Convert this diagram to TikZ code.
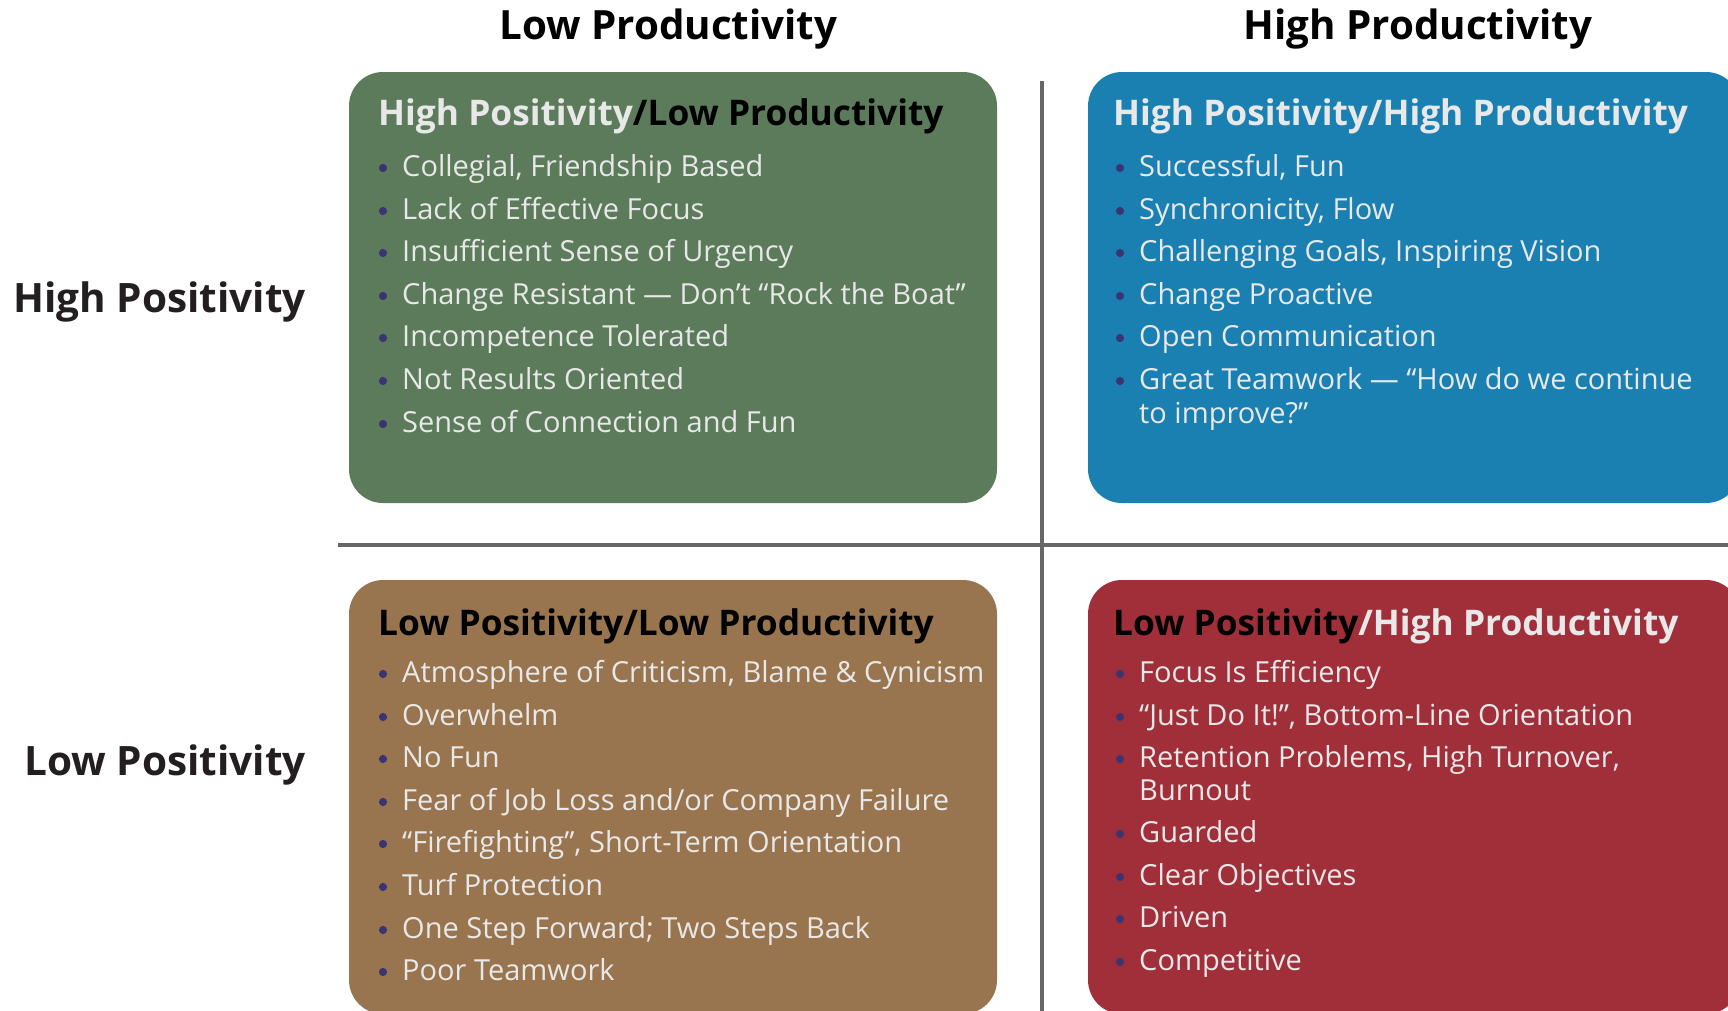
\documentclass[tikz,border=0pt]{standalone}
\usepackage{fontspec}
\setmainfont{Open Sans}
\definecolor{gbox}{HTML}{5B7B5B}
\definecolor{bbox}{HTML}{1A80B1}
\definecolor{brbox}{HTML}{98754E}
\definecolor{rbox}{HTML}{A02F3A}
\definecolor{ltext}{HTML}{E8E8E8}
\definecolor{bulc}{HTML}{3B3472}
\definecolor{linec}{HTML}{666666}
\definecolor{labc}{HTML}{231F20}
\tikzset{
  quad/.style={rounded corners=34pt},
  axis/.style={draw=linec, line width=4pt},
  head/.style={inner sep=0pt, anchor=base, font=\fontsize{40.3}{47}\bfseries\selectfont, text=black},
  side/.style={inner sep=0pt, anchor=base east, font=\fontsize{40.5}{48}\bfseries\selectfont, text=labc},
  ttl/.style={inner sep=0pt, anchor=base west, font=\fontsize{35.3}{42}\bfseries\selectfont},
  body/.style={inner sep=0pt, anchor=base west, font=\fontsize{29}{34}\selectfont, text=ltext},
  bul/.style={fill=bulc}
}
\newcommand\bitem[4]{\fill[bul] (#2,#3-8) circle (4.1pt); \node[body] (#1) at (#2+19,#3) {#4};}
\begin{document}
\begin{tikzpicture}[x=1pt,y=-1pt]
\useasboundingbox (0,0) rectangle (1728,1010);
\clip (0,0) rectangle (1728,1010);
% boxes
\fill[gbox, quad] (349,72) rectangle (997,503);
\fill[bbox, quad] (1088,72) rectangle (1740,503);
\fill[brbox, quad] (349,580) rectangle (997,1014);
\fill[rbox, quad] (1088,580) rectangle (1740,1014);
% axes
\coordinate (vtop) at (1042,81);
\coordinate (vbot) at (1042,1012);
\coordinate (hl) at (338,545);
\coordinate (hr) at (1730,545);
\draw[axis] (vtop) -- (vbot);
\draw[axis] (hl) -- (hr);
% headers
\node[head] (hlow) at (668.5,39) {Low Productivity};
\node[head] (hhigh) at (1418,39) {High Productivity};
\node[side] (shigh) at (306,312) {High Positivity};
\node[side] (slow) at (306,775) {Low Positivity};
% green
\node[ttl] (tg) at (378,125) {{\color{ltext}High Positivity}{\color{black}/Low Productivity}};
\bitem{g1}{383}{176}{Collegial, Friendship Based}
\bitem{g2}{383}{219}{Lack of Effective Focus}
\bitem{g3}{383}{261}{Insufficient Sense of Urgency}
\bitem{g4}{383}{304}{Change Resistant — Don’t “Rock the Boat”}
\bitem{g5}{383}{346}{Incompetence Tolerated}
\bitem{g6}{383}{389}{Not Results Oriented}
\bitem{g7}{383}{432}{Sense of Connection and Fun}
% blue
\node[ttl, text=ltext] (tb) at (1113,125) {High Positivity/High Productivity};
\bitem{b1}{1120}{176}{Successful, Fun}
\bitem{b2}{1120}{219}{Synchronicity, Flow}
\bitem{b3}{1120}{261}{Challenging Goals, Inspiring Vision}
\bitem{b4}{1120}{304}{Change Proactive}
\bitem{b5}{1120}{346}{Open Communication}
\bitem{b6}{1120}{389}{Great Teamwork — “How do we continue}
\node[body] (b6b) at (1139,423) {to improve?”};
% brown
\node[ttl, text=black] (tbr) at (378,635) {Low Positivity/Low Productivity};
\bitem{r1}{383}{682}{Atmosphere of Criticism, Blame \& Cynicism}
\bitem{r2}{383}{725}{Overwhelm}
\bitem{r3}{383}{767}{No Fun}
\bitem{r4}{383}{810}{Fear of Job Loss and/or Company Failure}
\bitem{r5}{383}{852}{“Firefighting”, Short-Term Orientation}
\bitem{r6}{383}{895}{Turf Protection}
\bitem{r7}{383}{938}{One Step Forward; Two Steps Back}
\bitem{r8}{383}{980}{Poor Teamwork}
% red
\node[ttl] (tr) at (1113,635) {{\color{black}Low Positivity}{\color{ltext}/High Productivity}};
\bitem{d1}{1120}{682}{Focus Is Efficiency}
\bitem{d2}{1120}{725}{“Just Do It!”, Bottom-Line Orientation}
\bitem{d3}{1120}{767}{Retention Problems, High Turnover,}
\node[body] (d3b) at (1139,800) {Burnout};
\bitem{d4}{1120}{842}{Guarded}
\bitem{d5}{1120}{885}{Clear Objectives}
\bitem{d6}{1120}{927}{Driven}
\bitem{d7}{1120}{970}{Competitive}
\end{tikzpicture}
\end{document}
